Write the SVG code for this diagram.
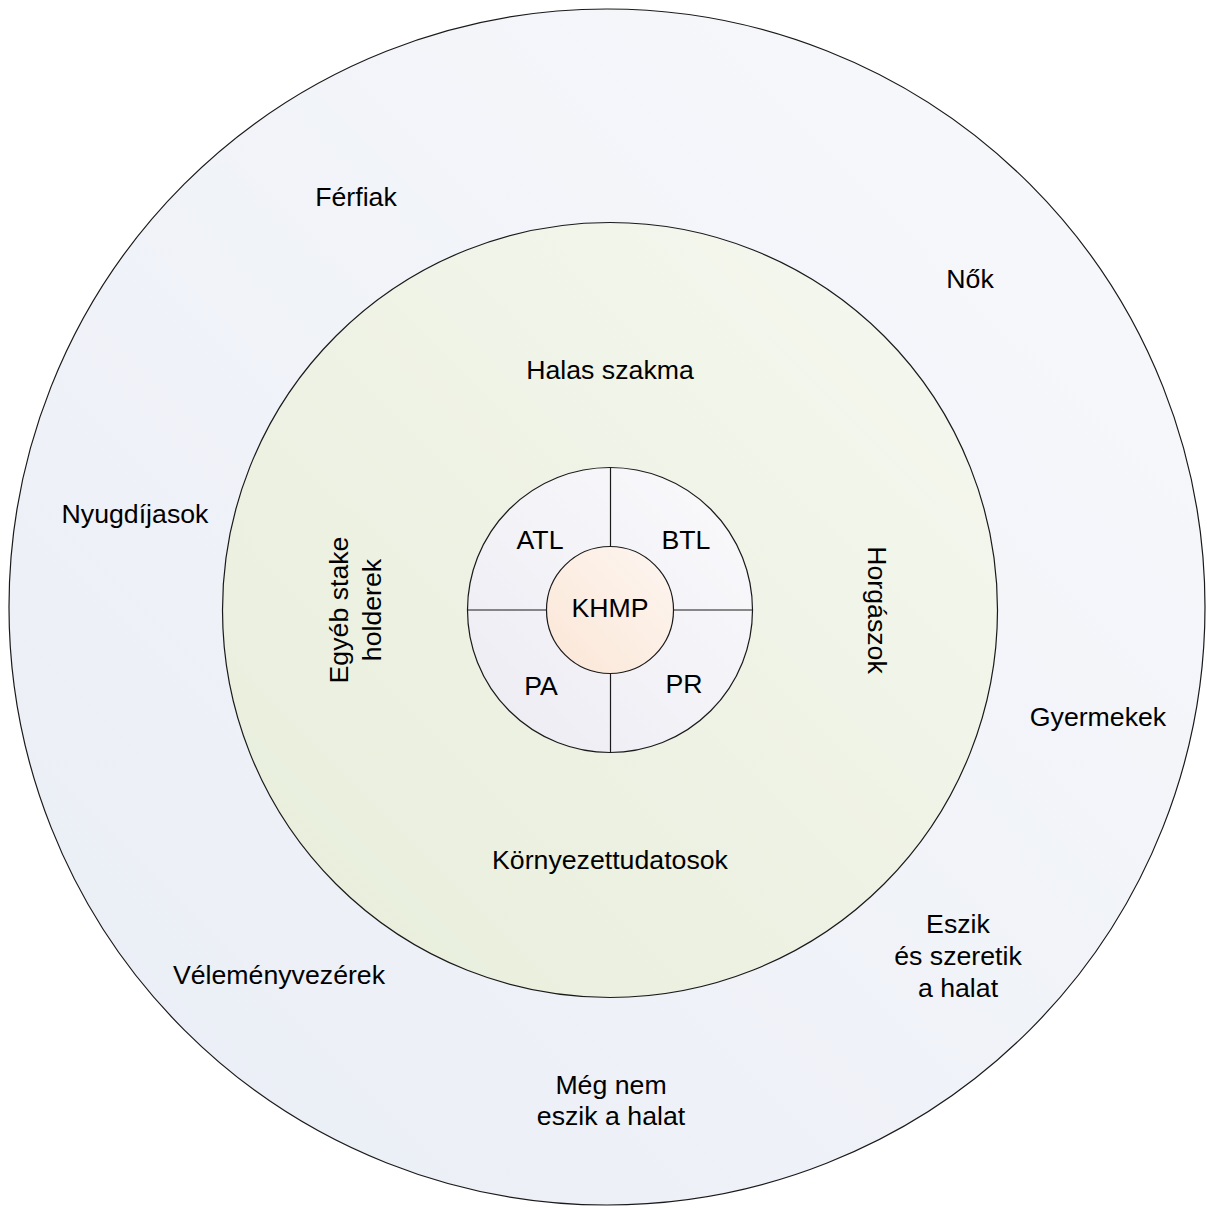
<svg xmlns="http://www.w3.org/2000/svg" width="1207" height="1208" viewBox="0 0 1207 1208">
<defs>
<linearGradient id="gOuter" x1="0" y1="1" x2="1" y2="0">
<stop offset="0" stop-color="#e9edf5"/>
<stop offset="1" stop-color="#f8f9fc"/>
</linearGradient>
<linearGradient id="gMid" x1="0" y1="1" x2="1" y2="0">
<stop offset="0" stop-color="#e7edda"/>
<stop offset="1" stop-color="#f6f8f0"/>
</linearGradient>
<linearGradient id="gRing" x1="0" y1="1" x2="1" y2="0">
<stop offset="0" stop-color="#ecebf3"/>
<stop offset="1" stop-color="#fafafc"/>
</linearGradient>
<linearGradient id="gCore" x1="0" y1="1" x2="1" y2="0">
<stop offset="0" stop-color="#fbe6d6"/>
<stop offset="1" stop-color="#fdf6f1"/>
</linearGradient>
</defs>
<style>
.c{stroke:#1a1a1a;stroke-width:1.2}
.ln{stroke:#1a1a1a;stroke-width:1.2;fill:none}
text{font-family:"Liberation Sans",Arial,sans-serif;font-size:26.7px;fill:#000;text-anchor:middle}
</style>
<rect width="1207" height="1208" fill="#ffffff"/>
<g id="outer">
<circle class="c" cx="607" cy="607" r="598" fill="url(#gOuter)"/>
<text x="356" y="206">Férfiak</text>
<text x="970" y="288">Nők</text>
<text x="135" y="523">Nyugdíjasok</text>
<text x="1098" y="726">Gyermekek</text>
<text x="958" y="933">Eszik</text>
<text x="958" y="965">és szeretik</text>
<text x="958" y="997">a halat</text>
<text x="279" y="984">Véleményvezérek</text>
<text x="611" y="1094">Még nem</text>
<text x="611" y="1125">eszik a halat</text>
</g>
<g id="middle">
<circle class="c" cx="610" cy="610" r="387.5" fill="url(#gMid)"/>
<text x="610" y="379">Halas szakma</text>
<text x="610" y="869">Környezettudatosok</text>
<text transform="translate(348 610) rotate(-90)" x="0" y="0">Egyéb stake</text>
<text transform="translate(381 610) rotate(-90)" x="0" y="0">holderek</text>
<text transform="translate(868 610) rotate(90)" x="0" y="0">Horgászok</text>
</g>
<g id="ring">
<circle class="c" cx="610" cy="610" r="142.5" fill="url(#gRing)"/>
<text x="540" y="549">ATL</text>
<text x="686" y="549">BTL</text>
<text x="541" y="695">PA</text>
<text x="684" y="693">PR</text>
</g>
<g id="connectors">
<line class="ln" x1="610.5" y1="467.5" x2="610.5" y2="546.5"/>
<line class="ln" x1="610.5" y1="673.5" x2="610.5" y2="752.5"/>
<line class="ln" x1="467.5" y1="610" x2="546.5" y2="610"/>
<line class="ln" x1="673.5" y1="610" x2="752.5" y2="610"/>
</g>
<g id="core">
<circle class="c" cx="610" cy="610" r="63.5" fill="url(#gCore)"/>
<text x="610" y="617">KHMP</text>
</g>
</svg>
